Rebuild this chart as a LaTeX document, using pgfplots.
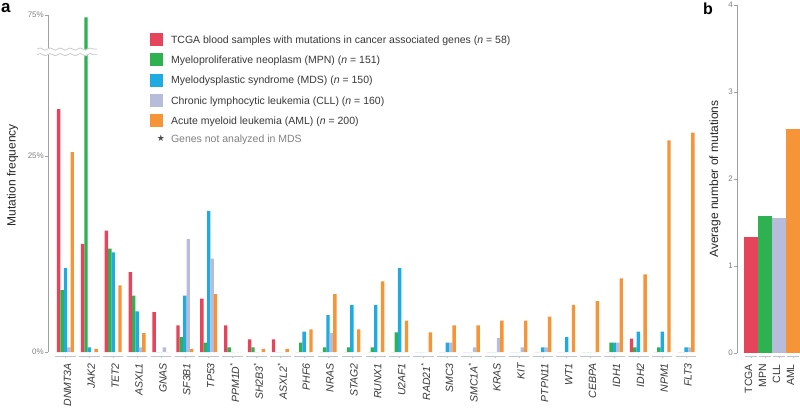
\documentclass[border=0pt]{standalone}
\usepackage{fontspec}
\setmainfont{Liberation Sans}
\newfontfamily\djv{DejaVu Sans}
\usepackage{pgfplots}
\usepackage{pgfplotstable}
\pgfplotsset{compat=1.18}
\usetikzlibrary{decorations.pathmorphing}

\definecolor{cTCGA}{RGB}{229,68,91}
\definecolor{cMPN}{RGB}{46,177,80}
\definecolor{cMDS}{RGB}{30,171,226}
\definecolor{cCLL}{RGB}{184,188,219}
\definecolor{cAML}{RGB}{246,148,56}
\definecolor{axgray}{RGB}{160,160,160}
\definecolor{ulgray}{RGB}{190,196,206}
\definecolor{txt}{RGB}{55,55,55}

\pgfplotstableread{
x tcga mpn mds cll aml
0 31.0 7.9 10.7 0.6 25.5
1 13.8 72.5 0.6 0 0.4
2 15.5 13.2 12.7 0 8.5
3 10.2 7.2 5.2 0.6 2.4
4 5.1 0 0 0.6 0
5 3.4 1.9 7.2 14.4 0.4
6 6.8 1.2 18.0 11.9 7.4
7 3.4 0.6 0 0 0
8 1.6 0.6 0 0 0.4
9 1.6 0 0 0 0.4
10 0 1.2 2.6 0 2.9
11 0 0.6 4.7 2.4 7.4
12 0 0.6 6.0 0 2.9
13 0 0.6 6.0 0 9.0
14 0 2.5 10.7 0 4.0
15 0 0 0 0 2.5
16 0 0 1.2 1.2 3.4
17 0 0 0 0.6 3.4
18 0 0 0 1.8 4.0
19 0 0 0 0.6 4.0
20 0 0 0.6 0.6 4.5
21 0 0 1.9 0 6.0
22 0 0 0 0 6.5
23 0 1.2 1.2 1.2 9.4
24 1.7 0.6 2.6 0 9.9
25 0 0.6 2.6 0 27.0
26 0 0 0.6 0.6 28.0
}\genetab

\begin{document}
\begin{tikzpicture}
\path[use as bounding box] (0,0) rectangle (800pt,408pt);

\begin{axis}[
  at={(48pt,56pt)}, anchor=south west,
  scale only axis, width=650pt, height=337pt,
  xmin=-0.733, xmax=26.5, ymin=0, ymax=75,
  enlargelimits=false, clip=false,
  y coord trafo/.code={\pgfmathparse{(#1>38.8) ? (38.8+(#1-38.8)*0.11602) : (#1)}},
  y coord inv trafo/.code={\pgfmathparse{(#1>38.8) ? (38.8+(#1-38.8)/0.11602) : (#1)}},
  axis lines*=left,
  axis line style={-, draw=axgray, line width=0.8pt},
  x axis line style={draw=none},
  x tick style={draw=none},
  y tick style={draw=axgray, line width=0.6pt},
  tick align=outside, major tick length=3pt,
  ybar=0pt, bar width=3.4pt,
  xtick={0,...,26},
  xticklabels={DNMT3A,JAK2,TET2,ASXL1,GNAS,SF3B1,TP53,PPM1D\textsuperscript{*},SH2B3\textsuperscript{*},ASXL2\textsuperscript{*},PHF6,NRAS,STAG2,RUNX1,U2AF1,RAD21\textsuperscript{*},SMC3,SMC1A\textsuperscript{*},KRAS,KIT,PTPN11,WT1,CEBPA,IDH1,IDH2,NPM1,FLT3},
  x tick label style={rotate=90, anchor=east, font=\fontsize{10.5}{12}\selectfont\itshape, text=txt, inner sep=0pt, xshift=-8pt, yshift=-2pt},
  ytick={0,25,75},
  yticklabels={0\%,25\%,75\%},
  y tick label style={font=\fontsize{8}{9}\selectfont, text=gray, inner sep=1pt},
  /pgf/number format/assume math mode=true,
  ylabel={Mutation frequency},
  ylabel style={at={(axis description cs:-0.0546,0.525)}, anchor=center, font=\fontsize{12}{14}\selectfont, text=black!85},
  legend style={at={(axis description cs:0.157,0.947)}, anchor=north west, draw=none, fill=none,
    inner sep=0pt, row sep=7.3pt, font=\fontsize{10.5}{12}\selectfont, text=txt,
    cells={anchor=west}, nodes={inner sep=0pt, text depth=0pt}},
  legend image code/.code={\draw[#1, draw=none] (0pt,-6.5pt) rectangle (13pt,6.5pt);},
  legend cell align=left,
]
\addplot[fill=cTCGA, draw=none] table[x=x, y=tcga] {\genetab};
\addlegendentry{\hspace{6pt}TCGA blood samples with mutations in cancer associated genes (\textit{n} = 58)}
\addplot[fill=cMPN, draw=none] table[x=x, y=mpn] {\genetab};
\addlegendentry{\hspace{6pt}Myeloproliferative neoplasm (MPN) (\textit{n} = 151)}
\addplot[fill=cMDS, draw=none] table[x=x, y=mds] {\genetab};
\addlegendentry{\hspace{6pt}Myelodysplastic syndrome (MDS) (\textit{n} = 150)}
\addplot[fill=cCLL, draw=none] table[x=x, y=cll] {\genetab};
\addlegendentry{\hspace{6pt}Chronic lymphocytic leukemia (CLL) (\textit{n} = 160)}
\addplot[fill=cAML, draw=none] table[x=x, y=aml] {\genetab};
\addlegendentry{\hspace{6pt}Acute myeloid leukemia (AML) (\textit{n} = 200)}
\addlegendimage{legend image code/.code={\node[text=black!70, font=\djv\fontsize{9}{9}\selectfont, inner sep=0pt] at (6.5pt,-2.5pt) {★};}}
\addlegendentry[text=gray, yshift=-2.5pt]{\hspace{6pt}Genes not analyzed in MDS}

\pgfplotsinvokeforeach{0,...,26}{
  \draw[ulgray, line width=0.9pt] (axis cs:#1-0.43,-0.55) -- (axis cs:#1+0.43,-0.55);
  \draw[ulgray, line width=0.6pt] (axis cs:#1,-0.55) -- ++(0pt,-2pt);
}
\coordinate (brkL) at (axis cs:-1.19,38.3);
\coordinate (brkR) at (axis cs:1.33,38.3);
\end{axis}

\draw[white, line width=6pt, decorate, decoration={snake, amplitude=1.1pt, segment length=10pt}] (brkL) -- (brkR);
\draw[gray!45, line width=0.7pt, decorate, decoration={snake, amplitude=1.1pt, segment length=10pt}] ([yshift=2.8pt]brkL) -- ([yshift=2.8pt]brkR);
\draw[gray!45, line width=0.7pt, decorate, decoration={snake, amplitude=1.1pt, segment length=10pt}] ([yshift=-2.8pt]brkL) -- ([yshift=-2.8pt]brkR);

\begin{axis}[
  at={(737pt,55pt)}, anchor=south west,
  scale only axis, width=63pt, height=348pt,
  xmin=-1, xmax=3.5, ymin=0, ymax=4,
  enlargelimits=false, clip=false,
  axis lines*=left,
  axis line style={-, draw=axgray, line width=0.8pt},
  x axis line style={draw=none},
  x tick style={draw=none},
  y tick style={draw=axgray, line width=0.6pt},
  tick align=outside, major tick length=3pt,
  ybar=0pt, bar width=13.2pt,
  xtick={0,1,2,3},
  xticklabels={TCGA,MPN,CLL,AML},
  x tick label style={rotate=90, anchor=east, font=\fontsize{10.5}{12}\selectfont, text=txt, inner sep=0pt, xshift=-8pt, yshift=2.5pt},
  ytick={0,1,2,3,4},
  y tick label style={font=\fontsize{8}{9}\selectfont, text=gray, inner sep=1pt},
  /pgf/number format/assume math mode=true,
  ylabel={Average number of mutations},
  ylabel style={at={(axis description cs:-0.349,0.5)}, anchor=center, font=\fontsize{12}{14}\selectfont, text=black!85},
]
\addplot[draw=none, fill=cTCGA, bar shift=0pt] coordinates {(0,1.33)};
\addplot[draw=none, fill=cMPN, bar shift=0pt] coordinates {(1,1.57)};
\addplot[draw=none, fill=cCLL, bar shift=0pt] coordinates {(2,1.55)};
\addplot[draw=none, fill=cAML, bar shift=0pt] coordinates {(3,2.57)};
\pgfplotsinvokeforeach{0,...,3}{
  \draw[ulgray, line width=0.9pt] (axis cs:#1-0.4,-0.04) -- (axis cs:#1+0.4,-0.04);
  \draw[ulgray, line width=0.6pt] (axis cs:#1,-0.04) -- ++(0pt,-2pt);
}
\end{axis}

\node[anchor=north west, inner sep=0pt, font=\bfseries\fontsize{17}{17}\selectfont] at (1pt,405pt) {a};
\node[anchor=north west, inner sep=0pt, font=\bfseries\fontsize{16}{16}\selectfont] at (703pt,405pt) {b};
\end{tikzpicture}
\end{document}
